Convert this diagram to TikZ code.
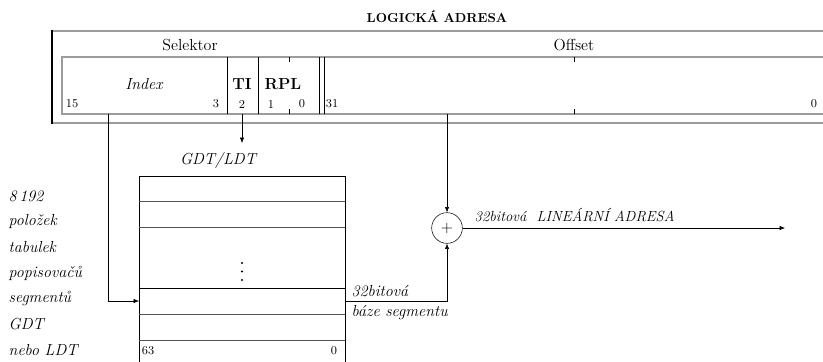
\documentclass[tikz,border=0pt]{standalone}
\usepackage{tikz}
\usetikzlibrary{arrows.meta,positioning}
\definecolor{rulegray}{HTML}{9C9C9C}
\definecolor{rowgray}{HTML}{555555}
\tikzset{
  frameline/.style={rulegray,line width=1pt},
  fieldsep/.style={black,line width=.6pt},
  bitno/.style={font=\fontsize{9}{10}\selectfont},
  sidelabel/.style={anchor=west,font=\fontsize{12}{14}\selectfont\itshape},
}

\begin{document}
\begin{tikzpicture}[x=.75pt,y=-.75pt,font=\fontsize{12}{14}\selectfont,>={Latex[length=4pt,width=3.2pt]}]
\useasboundingbox (0,0) rectangle (823,361);
% logical address
\node[font=\fontsize{9.8}{12}\selectfont\bfseries] (title) at (437,17) {LOGICKÁ ADRESA};
\draw[frameline] (52,31)--(823,31);
\draw[rulegray,line width=1.6pt] (51,123)--(823,123);
\draw[line width=1.8pt] (52,30)--(52,124);
\draw[frameline] (823,57)--(62,57)--(62,114)--(823,114);
\foreach \x in {227,258,319,324}{\draw[fieldsep] (\x,57)--(\x,114);}
\foreach \x in {289,574}{\draw[fieldsep] (\x,57)--(\x,62) (\x,109)--(\x,114);}
\node (sel) at (190,45) {Selektor};
\node (offset) at (574,45) {Offset};
\node[font=\fontsize{12}{14}\selectfont\itshape] (index) at (144,84) {Index};
\node[font=\fontsize{12}{14}\selectfont\bfseries] (ti) at (242,84) {TI};
\node[font=\fontsize{12}{14}\selectfont\bfseries] (rpl) at (283,84) {RPL};
\node[bitno] (b15) at (72,104) {15};
\node[bitno] (b3) at (216,104) {3};
\node[bitno] (b2) at (242,104) {2};
\node[bitno] (b1) at (271,104) {1};
\node[bitno] (b0) at (302,104) {0};
\node[bitno] (b31) at (332,104) {31};
\node[bitno] (o0) at (814,104) {0};
\coordinate (idx-out) at (108,114);
\coordinate (ti-out) at (242,114);
\coordinate (off-out) at (447,114);
\coordinate (ti-end) at (242,143);
% descriptor table
\node[font=\fontsize{12}{14}\selectfont\itshape] (gdt) at (218,160) {GDT/LDT};
\draw (139,362)--(139,176)--(345,176)--(345,362);
\foreach \y in {201,227,314,340}{\draw[rowgray] (139,\y)--(345,\y);}
\draw (139,288)--(345,288);
\foreach \y in {263,271.5,280}{\fill (242,\y) circle (1.1);}
\coordinate (row-w) at (139,301);
\coordinate (row-e) at (345,301);
\node[bitno] (t63) at (148,351) {63};
\node[bitno] (t0) at (334,351) {0};
\foreach \t [count=\i from 0] in {8\,192,položek,tabulek,popisovačů,segmentů,GDT,nebo LDT}
  {\node[sidelabel] (side\i) at (4,196+25.7*\i) {\t};}
% linear address
\node[circle,draw,inner sep=0pt,minimum size=23pt] (sum) at (447,228) {$+$};
\coordinate (lin-end) at (785,228);
\draw[->] (ti-out)--(ti-end);
\draw[->] (idx-out)|-(row-w);
\draw[->] (off-out)--(sum);
\draw[->] (row-e)-|(sum);
\draw[->] (sum)--(lin-end);
\node[sidelabel] (base1) at (347,291) {32bitová};
\node[sidelabel] (base2) at (347,313) {báze segmentu};
\node[sidelabel,font=\fontsize{11}{13}\selectfont\itshape] (lin) at (470,215) {32bitová~~LINEÁRNÍ ADRESA};
\end{tikzpicture}
\end{document}
